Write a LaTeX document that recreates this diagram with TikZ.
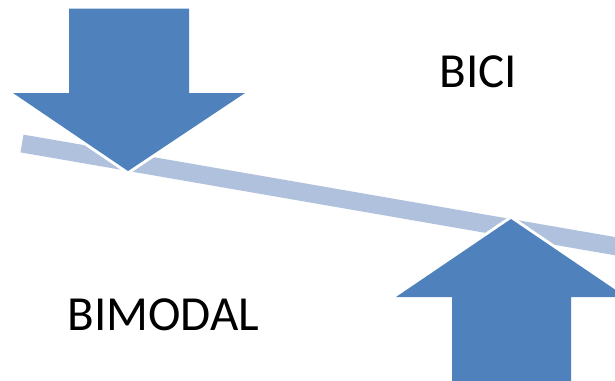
\documentclass[tikz,border=0pt]{standalone}
\usepackage{fontspec}
\setmainfont{Carlito}
\definecolor{arrowblue}{RGB}{79,129,189}
\definecolor{barblue}{RGB}{176,193,222}
\tikzset{
  halo/.style={draw=white, line width=6pt, line join=round},
  bigarrow/.style={fill=arrowblue},
  lever/.style={draw=barblue, line width=18pt, line cap=butt},
  caption/.style={anchor=base, inner sep=0pt, font=\fontsize{49}{52}\selectfont}
}
\begin{document}
\begin{tikzpicture}[x=1pt, y=-1pt]
  \useasboundingbox (0,0) rectangle (615,380);
  % tilted bar
  \coordinate (barL) at (22,143.5);
  \coordinate (barR) at (640,250.5);
  \draw[lever] (barL) -- (barR);
  % arrow outlines: a white halo that cuts the bar, then the blue body on top
  \def\downarrowpath{(69,8.5) -- (189,8.5) -- (189,93) -- (245,93) -- (128,171)
    -- (13,93) -- (69,93) -- cycle}
  \def\uparrowpath{(452,395) -- (571,395) -- (571,297) -- (626,297) -- (511,219)
    -- (396,297) -- (452,297) -- cycle}
  \path[halo] \downarrowpath;
  \path[halo] \uparrowpath;
  \path[bigarrow] \downarrowpath;
  \path[bigarrow] \uparrowpath;
  % labels
  \node[caption] (bici) at (478.5,87) {BICI};
  \node[caption] (bimodal) at (163.5,330) {BIMODAL};
\end{tikzpicture}
\end{document}
